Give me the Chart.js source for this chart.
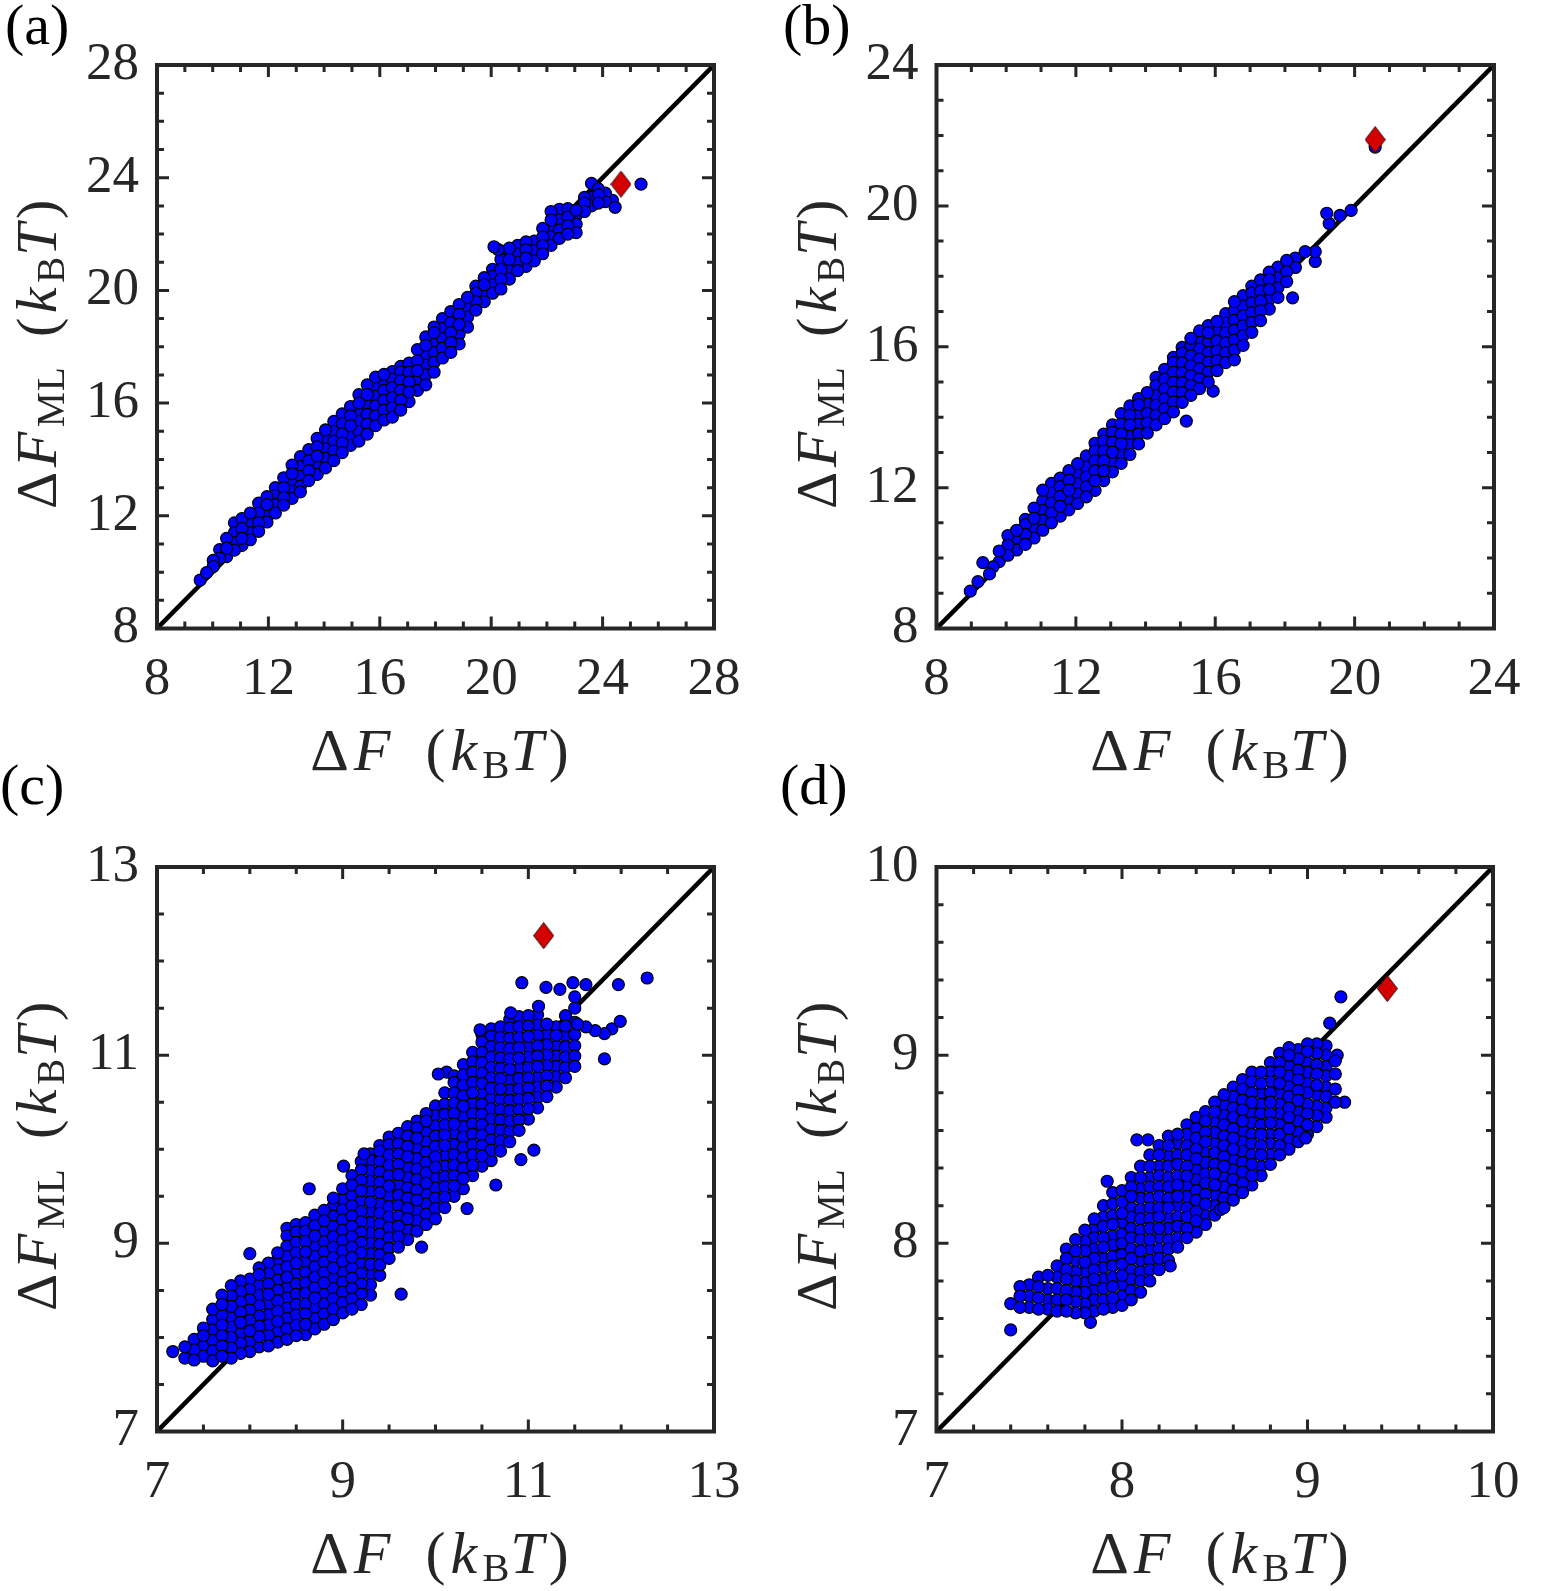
<!DOCTYPE html>
<html>
<head>
<meta charset="utf-8">
<script src="https://cdn.jsdelivr.net/npm/chart.js@4.4.1/dist/chart.umd.min.js"></script>
<style>
body { margin: 0; background: #fff; width: 1564px; height: 1591px; position: relative; overflow: hidden; font-family: "Liberation Serif", "Times New Roman", serif; }
canvas { position: absolute; }
.lab { position: absolute; font-size: 58px; line-height: 58px; color: #000; white-space: nowrap; }
.ttl { position: absolute; width: 600px; text-align: center; font-size: 60px; line-height: 60px; color: #262626; white-space: nowrap; letter-spacing: 5px; word-spacing: 10px; }
.ttl sub { font-size: 0.68em; line-height: 0; vertical-align: -0.2em; letter-spacing: 1px; }
.rot { transform: rotate(-90deg); font-size: 58px; letter-spacing: 4.5px; }
</style>
</head>
<body>
<canvas id="pa" width="782" height="795" style="left:0px;top:0px"></canvas>
<canvas id="pb" width="782" height="795" style="left:782px;top:0px"></canvas>
<canvas id="pc" width="782" height="796" style="left:0px;top:795px"></canvas>
<canvas id="pd" width="782" height="796" style="left:782px;top:795px"></canvas>

<div class="lab" style="left:5px;top:-4px">(a)</div>
<div class="lab" style="left:783px;top:-4px">(b)</div>
<div class="lab" style="left:0px;top:756px">(c)</div>
<div class="lab" style="left:780px;top:756px">(d)</div>

<div class="ttl" style="left:142px;top:720px">Δ<i>F</i> (<i>k</i><sub>B</sub><i>T</i>)</div>
<div class="ttl" style="left:922px;top:720px">Δ<i>F</i> (<i>k</i><sub>B</sub><i>T</i>)</div>
<div class="ttl" style="left:142px;top:1523px">Δ<i>F</i> (<i>k</i><sub>B</sub><i>T</i>)</div>
<div class="ttl" style="left:922px;top:1523px">Δ<i>F</i> (<i>k</i><sub>B</sub><i>T</i>)</div>

<div class="ttl rot" style="left:-263px;top:322px">Δ<i>F</i><sub>ML</sub> (<i>k</i><sub>B</sub><i>T</i>)</div>
<div class="ttl rot" style="left:517px;top:322px">Δ<i>F</i><sub>ML</sub> (<i>k</i><sub>B</sub><i>T</i>)</div>
<div class="ttl rot" style="left:-263px;top:1124px">Δ<i>F</i><sub>ML</sub> (<i>k</i><sub>B</sub><i>T</i>)</div>
<div class="ttl rot" style="left:517px;top:1124px">Δ<i>F</i><sub>ML</sub> (<i>k</i><sub>B</sub><i>T</i>)</div>

<script>
// ---- panel (a) ----
const aTicks = [8, 12, 16, 20, 24, 28];
const aMinor = 1;
const aX = [9.55, 9.78, 10.02, 10.25, 10.5, 10.78, 11.05, 11.35, 11.65, 11.95, 12.25, 12.55, 12.85, 13.15, 13.45, 13.75, 14.05, 14.35, 14.65, 14.95, 15.25, 15.55, 15.85, 16.15, 16.45, 16.75, 17.05, 17.35, 17.65, 17.95, 18.25, 18.55, 18.85, 19.15, 19.45, 19.75, 20.05, 20.35, 20.65, 20.95, 21.25, 21.55, 21.85, 22.15, 22.45, 22.75, 23.05, 23.35, 23.6, 23.85, 24.1, 24.35];
const aY = [
  [9.72], [9.98], [10.2, 10.42], [10.5, 10.8], [10.55, 10.85, 11.2],
  [10.78, 11.05, 11.4, 11.75], [10.95, 11.2, 11.55, 11.9], [11.15, 11.4, 11.75, 12.1], [11.45, 11.75, 12.1, 12.45], [11.78, 12.07, 12.4, 12.68],
  [12.1, 12.4, 12.72, 13.0], [12.38, 12.65, 13.0, 13.35], [12.62, 12.88, 13.2, 13.5, 13.8], [12.85, 13.05, 13.4, 13.75, 14.1], [13.25, 13.6, 13.95, 14.35],
  [13.47, 13.8, 14.12, 14.45, 14.75], [13.7, 14.05, 14.38, 14.72, 15.05], [13.96, 14.3, 14.65, 15.0, 15.35], [14.24, 14.58, 14.92, 15.28, 15.62], [14.5, 14.85, 15.2, 15.55, 15.88],
  [14.65, 15.0, 15.35, 15.68, 16.0, 16.3], [14.9, 15.25, 15.6, 15.95, 16.3, 16.65], [15.2, 15.55, 15.9, 16.25, 16.6, 16.92], [15.4, 15.75, 16.1, 16.45, 16.8, 17.02], [15.5, 15.85, 16.2, 16.55, 16.85, 17.12],
  [15.75, 16.1, 16.45, 16.8, 17.1, 17.3], [16.05, 16.4, 16.75, 17.1, 17.42], [16.45, 16.8, 17.15, 17.5, 17.9], [16.65, 17.0, 17.35, 17.7, 18.05, 18.35], [17.1, 17.45, 17.8, 18.15, 18.5, 18.7],
  [17.6, 17.95, 18.3, 18.65, 19.0], [17.8, 18.15, 18.5, 18.85, 19.25], [18.1, 18.45, 18.8, 19.15, 19.5], [18.7, 19.05, 19.4, 19.75], [19.3, 19.6, 19.9, 20.15],
  [19.6, 19.9, 20.2, 20.45], [19.9, 20.2, 20.5, 20.75], [20.05, 20.4, 20.75, 21.1, 21.4], [20.4, 20.75, 21.1, 21.5], [20.7, 21.0, 21.3, 21.6],
  [20.85, 21.15, 21.45, 21.72], [21.05, 21.4, 21.75], [21.3, 21.6, 21.9, 22.2], [21.6, 21.9, 22.2, 22.5, 22.8], [21.85, 22.15, 22.5, 22.88],
  [22.0, 22.3, 22.6, 22.9], [22.05, 22.35, 22.65, 22.85], [22.8, 23.1, 23.3], [23.0, 23.3, 23.8], [23.1, 23.4, 23.6],
  [23.15, 23.45], [23.2]
];
const aOutX = [20.1, 20.25, 24.45, 25.38];
const aOutY = [21.55, 21.45, 22.95, 23.77];
const aRed = [24.66, 23.77];

// ---- panel (b) ----
const bTicks = [8, 12, 16, 20, 24];
const bMinor = 1;
const bX = [9.8, 10.05, 10.3, 10.55, 10.8, 11.05, 11.3, 11.55, 11.8, 12.05, 12.3, 12.55, 12.8, 13.05, 13.3, 13.55, 13.8, 14.05, 14.3, 14.55, 14.8, 15.05, 15.3, 15.55, 15.8, 16.05, 16.3, 16.55, 16.8, 17.05, 17.3, 17.55, 17.8, 18.05, 18.3];
const bY = [
  [9.9, 10.2], [10.08, 10.37, 10.64], [10.23, 10.51, 10.79], [10.39, 10.67, 10.95, 11.1], [10.57, 10.85, 11.13, 11.42],
  [10.79, 11.07, 11.35, 11.63, 11.93], [11.0, 11.28, 11.56, 11.84, 12.12], [11.19, 11.47, 11.75, 12.03, 12.27], [11.37, 11.65, 11.93, 12.21, 12.48], [11.55, 11.83, 12.11, 12.39, 12.68],
  [11.74, 12.02, 12.3, 12.58, 12.9], [11.92, 12.2, 12.48, 12.76, 13.04, 13.26], [12.2, 12.48, 12.76, 13.04, 13.32, 13.52], [12.45, 12.73, 13.01, 13.29, 13.57, 13.78], [12.69, 12.97, 13.25, 13.53, 13.81, 14.1],
  [12.94, 13.22, 13.5, 13.78, 14.06, 14.32], [13.24, 13.52, 13.8, 14.08, 14.36, 14.53], [13.55, 13.83, 14.11, 14.39, 14.7], [13.78, 14.06, 14.34, 14.62, 14.9, 15.13], [13.96, 14.24, 14.52, 14.8, 15.08, 15.36],
  [14.15, 14.43, 14.71, 14.99, 15.27, 15.55, 15.7], [14.42, 14.7, 14.98, 15.26, 15.54, 15.82, 15.98], [14.62, 14.9, 15.18, 15.46, 15.74, 16.02, 16.24], [14.81, 15.09, 15.37, 15.65, 15.93, 16.21, 16.45], [15.0, 15.28, 15.56, 15.84, 16.12, 16.4, 16.6],
  [15.32, 15.6, 15.88, 16.16, 16.44, 16.72], [15.55, 15.83, 16.11, 16.39, 16.67, 16.94], [15.63, 15.91, 16.19, 16.47, 16.75, 17.03, 17.28], [16.04, 16.32, 16.6, 16.88, 17.16, 17.45], [16.41, 16.69, 16.97, 17.25, 17.53, 17.72],
  [16.74, 17.02, 17.3, 17.58, 17.9], [17.07, 17.35, 17.63, 17.91, 18.12], [17.4, 17.68, 17.96, 18.26], [17.85, 18.13, 18.45], [18.25, 18.52]
];
const bOutX = [8.97, 9.19, 9.33, 9.52, 9.62, 15.17, 15.94, 18.22, 18.58, 18.87, 18.87, 19.2, 19.27, 19.58, 19.9, 20.59];
const bOutY = [9.06, 9.33, 9.87, 9.55, 9.75, 13.89, 14.74, 17.39, 18.7, 18.7, 18.42, 19.79, 19.5, 19.73, 19.87, 21.67];
const bRed = [20.59, 21.88];

// ---- panel (c) ----
const cTicks = [7, 9, 11, 13];
const cMinor = 0.5;
const cX = [7.3, 7.4, 7.5, 7.6, 7.7, 7.8, 7.9, 8.0, 8.1, 8.2, 8.3, 8.4, 8.5, 8.6, 8.7, 8.8, 8.9, 9.0, 9.1, 9.2, 9.3, 9.4, 9.5, 9.6, 9.7, 9.8, 9.9, 10.0, 10.1, 10.2, 10.3, 10.4, 10.5, 10.6, 10.7, 10.8, 10.9, 11.0, 11.1, 11.2, 11.3, 11.4, 11.5];
const cY = [
  [7.78, 7.9],
  [7.76, 7.87, 7.98],
  [7.8, 7.91, 8.02, 8.1],
  [7.75, 7.86, 7.97, 8.08, 8.19, 8.3],
  [7.8, 7.91, 8.02, 8.13, 8.24, 8.35, 8.45],
  [7.78, 7.89, 8.0, 8.11, 8.22, 8.33, 8.44, 8.55],
  [7.83, 7.94, 8.05, 8.16, 8.27, 8.38, 8.49, 8.6],
  [7.85, 7.96, 8.07, 8.18, 8.29, 8.4, 8.51, 8.62],
  [7.9, 8.01, 8.12, 8.23, 8.34, 8.45, 8.56, 8.67, 8.74],
  [7.91, 8.02, 8.13, 8.24, 8.35, 8.46, 8.57, 8.68, 8.79],
  [7.95, 8.06, 8.17, 8.28, 8.39, 8.5, 8.61, 8.72, 8.83, 8.9],
  [7.98, 8.09, 8.2, 8.31, 8.42, 8.53, 8.64, 8.75, 8.86, 8.97, 9.08, 9.16],
  [8.02, 8.13, 8.24, 8.35, 8.46, 8.57, 8.68, 8.79, 8.9, 9.01, 9.12, 9.2],
  [8.03, 8.14, 8.25, 8.36, 8.47, 8.58, 8.69, 8.8, 8.91, 9.02, 9.13, 9.22],
  [8.09, 8.2, 8.31, 8.42, 8.53, 8.64, 8.75, 8.86, 8.97, 9.08, 9.19, 9.3],
  [8.14, 8.25, 8.36, 8.47, 8.58, 8.69, 8.8, 8.91, 9.02, 9.13, 9.24, 9.35],
  [8.19, 8.3, 8.41, 8.52, 8.63, 8.74, 8.85, 8.96, 9.07, 9.18, 9.29, 9.4, 9.48],
  [8.26, 8.37, 8.48, 8.59, 8.7, 8.81, 8.92, 9.03, 9.14, 9.25, 9.36, 9.47, 9.58],
  [8.3, 8.41, 8.52, 8.63, 8.74, 8.85, 8.96, 9.07, 9.18, 9.29, 9.4, 9.51, 9.62, 9.72],
  [8.35, 8.46, 8.57, 8.68, 8.79, 8.9, 9.01, 9.12, 9.23, 9.34, 9.45, 9.56, 9.67, 9.78, 9.87],
  [8.45, 8.56, 8.67, 8.78, 8.89, 9.0, 9.11, 9.22, 9.33, 9.44, 9.55, 9.66, 9.77, 9.88, 9.95],
  [8.66, 8.77, 8.88, 8.99, 9.1, 9.21, 9.32, 9.43, 9.54, 9.65, 9.76, 9.87, 9.98, 10.04],
  [8.84, 8.95, 9.06, 9.17, 9.28, 9.39, 9.5, 9.61, 9.72, 9.83, 9.94, 10.05, 10.13],
  [8.96, 9.07, 9.18, 9.29, 9.4, 9.51, 9.62, 9.73, 9.84, 9.95, 10.06, 10.17],
  [9.04, 9.15, 9.26, 9.37, 9.48, 9.59, 9.7, 9.81, 9.92, 10.03, 10.14, 10.24],
  [9.13, 9.24, 9.35, 9.46, 9.57, 9.68, 9.79, 9.9, 10.01, 10.12, 10.23, 10.3],
  [9.2, 9.31, 9.42, 9.53, 9.64, 9.75, 9.86, 9.97, 10.08, 10.19, 10.3, 10.38],
  [9.26, 9.37, 9.48, 9.59, 9.7, 9.81, 9.92, 10.03, 10.14, 10.25, 10.36, 10.46],
  [9.38, 9.49, 9.6, 9.71, 9.82, 9.93, 10.04, 10.15, 10.26, 10.37, 10.48, 10.6],
  [9.5, 9.61, 9.72, 9.83, 9.94, 10.05, 10.16, 10.27, 10.38, 10.49, 10.6, 10.71, 10.78],
  [9.58, 9.69, 9.8, 9.91, 10.02, 10.13, 10.24, 10.35, 10.46, 10.57, 10.68, 10.79, 10.9],
  [9.72, 9.83, 9.94, 10.05, 10.16, 10.27, 10.38, 10.49, 10.6, 10.71, 10.82, 10.93, 11.03],
  [9.82, 9.93, 10.04, 10.15, 10.26, 10.37, 10.48, 10.59, 10.7, 10.81, 10.92, 11.03, 11.14, 11.22],
  [9.88, 9.99, 10.1, 10.21, 10.32, 10.43, 10.54, 10.65, 10.76, 10.87, 10.98, 11.09, 11.2, 11.28],
  [9.98, 10.09, 10.2, 10.31, 10.42, 10.53, 10.64, 10.75, 10.86, 10.97, 11.08, 11.19, 11.3],
  [10.08, 10.19, 10.3, 10.41, 10.52, 10.63, 10.74, 10.85, 10.96, 11.07, 11.18, 11.29, 11.38],
  [10.2, 10.31, 10.42, 10.53, 10.64, 10.75, 10.86, 10.97, 11.08, 11.19, 11.3, 11.41],
  [10.32, 10.43, 10.54, 10.65, 10.76, 10.87, 10.98, 11.09, 11.2, 11.31, 11.42],
  [10.44, 10.55, 10.66, 10.77, 10.88, 10.99, 11.1, 11.21, 11.32, 11.43],
  [10.56, 10.67, 10.78, 10.89, 11.0, 11.11, 11.22, 11.33],
  [10.66, 10.77, 10.88, 10.99, 11.1, 11.21, 11.3],
  [10.76, 10.87, 10.98, 11.09, 11.2, 11.31, 11.42],
  [10.88, 10.99, 11.1, 11.22, 11.35, 11.5, 11.62]
];
const cOutX = [7.17, 8.0, 8.64, 9.01, 9.23, 9.63, 9.85, 10.34, 10.65, 10.92, 11.06, 11.82, 11.97, 12.28, 10.93, 11.19, 11.34, 11.48, 11.62, 11.53, 11.62, 11.72, 11.82, 11.9, 11.99, 10.81, 11.11, 10.48, 10.03, 10.12];
const cOutY = [7.85, 8.89, 9.58, 9.82, 9.95, 8.46, 8.96, 9.37, 9.62, 9.89, 9.99, 10.96, 11.75, 11.82, 11.77, 11.72, 11.7, 11.77, 11.75, 11.33, 11.3, 11.26, 11.23, 11.28, 11.36, 11.45, 11.52, 11.27, 10.8, 10.82];
const cRed = [11.165, 12.27];

// ---- panel (d) ----
const dTicks = [7, 8, 9, 10];
const dMinor = 0.2;
const dX = [7.4, 7.45, 7.5, 7.55, 7.6, 7.65, 7.7, 7.75, 7.8, 7.85, 7.9, 7.95, 8.0, 8.05, 8.1, 8.15, 8.2, 8.25, 8.3, 8.35, 8.4, 8.45, 8.5, 8.55, 8.6, 8.65, 8.7, 8.75, 8.8, 8.85, 8.9, 8.95, 9.0, 9.05, 9.1, 9.15];
const dY = [
  [7.68],
  [7.66, 7.72, 7.77],
  [7.66, 7.72, 7.78],
  [7.65, 7.71, 7.77, 7.82],
  [7.65, 7.7, 7.76, 7.83],
  [7.64, 7.7, 7.76, 7.82, 7.88],
  [7.64, 7.7, 7.75, 7.81, 7.86, 7.92, 7.97],
  [7.63, 7.69, 7.74, 7.8, 7.85, 7.91, 7.96, 8.02],
  [7.63, 7.68, 7.74, 7.79, 7.85, 7.9, 7.96, 8.01, 8.07],
  [7.64, 7.7, 7.75, 7.81, 7.86, 7.92, 7.97, 8.03, 8.08, 8.13],
  [7.65, 7.7, 7.76, 7.81, 7.87, 7.92, 7.98, 8.03, 8.09, 8.14, 8.2],
  [7.66, 7.71, 7.77, 7.82, 7.88, 7.93, 7.99, 8.04, 8.1, 8.15, 8.21, 8.27],
  [7.67, 7.72, 7.78, 7.83, 7.89, 7.94, 8.0, 8.05, 8.11, 8.16, 8.22, 8.28],
  [7.7, 7.75, 7.81, 7.86, 7.92, 7.97, 8.03, 8.08, 8.14, 8.19, 8.25, 8.3, 8.35],
  [7.74, 7.8, 7.85, 7.91, 7.96, 8.02, 8.07, 8.13, 8.18, 8.24, 8.29, 8.35, 8.41],
  [7.8, 7.86, 7.91, 7.97, 8.02, 8.08, 8.13, 8.19, 8.24, 8.3, 8.35, 8.41, 8.47],
  [7.86, 7.92, 7.97, 8.03, 8.08, 8.14, 8.19, 8.25, 8.3, 8.36, 8.41, 8.47, 8.52],
  [7.91, 7.97, 8.02, 8.08, 8.13, 8.19, 8.24, 8.3, 8.35, 8.41, 8.46, 8.52, 8.57],
  [7.98, 8.03, 8.09, 8.14, 8.2, 8.25, 8.31, 8.36, 8.42, 8.47, 8.53, 8.58],
  [8.03, 8.08, 8.14, 8.19, 8.25, 8.3, 8.36, 8.41, 8.47, 8.52, 8.58, 8.63],
  [8.06, 8.12, 8.17, 8.23, 8.28, 8.34, 8.39, 8.45, 8.5, 8.56, 8.61, 8.67],
  [8.1, 8.15, 8.21, 8.26, 8.32, 8.37, 8.43, 8.48, 8.54, 8.59, 8.65, 8.7],
  [8.15, 8.2, 8.26, 8.31, 8.37, 8.42, 8.48, 8.53, 8.59, 8.64, 8.7, 8.75],
  [8.19, 8.24, 8.3, 8.35, 8.41, 8.46, 8.52, 8.57, 8.63, 8.68, 8.74, 8.79],
  [8.23, 8.28, 8.34, 8.39, 8.45, 8.5, 8.56, 8.61, 8.67, 8.72, 8.78, 8.83],
  [8.27, 8.32, 8.38, 8.43, 8.49, 8.54, 8.6, 8.65, 8.71, 8.76, 8.82, 8.87],
  [8.31, 8.36, 8.42, 8.47, 8.53, 8.58, 8.64, 8.69, 8.75, 8.8, 8.86, 8.91],
  [8.36, 8.41, 8.47, 8.52, 8.58, 8.63, 8.69, 8.74, 8.8, 8.85, 8.91],
  [8.42, 8.47, 8.53, 8.58, 8.64, 8.69, 8.75, 8.8, 8.86, 8.91, 8.96],
  [8.47, 8.52, 8.58, 8.63, 8.69, 8.74, 8.8, 8.85, 8.91, 8.96, 9.01],
  [8.5, 8.56, 8.61, 8.67, 8.72, 8.78, 8.83, 8.89, 8.94, 9.0, 9.04],
  [8.54, 8.59, 8.65, 8.7, 8.76, 8.81, 8.87, 8.92, 8.98, 9.03],
  [8.58, 8.63, 8.69, 8.74, 8.8, 8.85, 8.91, 8.96, 9.02, 9.06],
  [8.62, 8.68, 8.73, 8.79, 8.84, 8.9, 8.95, 9.01, 9.06],
  [8.67, 8.72, 8.78, 8.83, 8.89, 8.94, 9.0, 9.05],
  [8.75, 8.82, 8.9, 8.97]
];
const dOutX = [7.4, 7.83, 7.92, 8.08, 8.14, 8.26, 8.53, 9.12, 9.16, 9.18, 9.2, 8.99];
const dOutY = [7.54, 7.58, 8.33, 8.55, 8.55, 7.88, 8.18, 9.17, 9.0, 9.31, 8.75, 8.56];
const dRed = [9.43, 9.354];

//red diamond marker, taller than wide like the matlab one
function diamond(w, h) {
    let c = document.createElement('canvas');
    c.width = w;
    c.height = h;
    let g = c.getContext('2d');
    g.beginPath();
    g.moveTo(w / 2, 0.5);
    g.lineTo(w - 0.5, h / 2);
    g.lineTo(w / 2, h - 0.5);
    g.lineTo(0.5, h / 2);
    g.closePath();
    g.fillStyle = '#d50000';
    g.fill();
    g.lineWidth = 1;
    g.strokeStyle = '#2a0000';
    g.stroke();
    return c;
}
const redMark = diamond(21, 27);

//box around the axes with inward ticks on all four sides
const framePlugin = {
    id: 'frame',
    afterDatasetsDraw(chart, args, opts) {
        let ctx = chart.ctx;
        let a = chart.chartArea;
        ctx.save();
        ctx.strokeStyle = '#262626';
        ctx.lineWidth = 3;
        ctx.beginPath();
        [chart.scales.x, chart.scales.y].forEach(s => {
            let n = Math.round((s.max - s.min) / opts.minor);
            for (let i = 1; i < n; i++) {
                let v = s.min + i * opts.minor;
                let r = (v - s.min) / opts.major;
                let len = Math.abs(r - Math.round(r)) < 1e-6 ? 12 : 7;
                let p = s.getPixelForValue(v);
                if (s.isHorizontal()) {
                    ctx.moveTo(p, a.bottom); ctx.lineTo(p, a.bottom - len);
                    ctx.moveTo(p, a.top); ctx.lineTo(p, a.top + len);
                } else {
                    ctx.moveTo(a.left, p); ctx.lineTo(a.left + len, p);
                    ctx.moveTo(a.right, p); ctx.lineTo(a.right - len, p);
                }
            }
        });
        ctx.stroke();
        ctx.lineWidth = 4;
        ctx.strokeRect(a.left, a.top, a.right - a.left, a.bottom - a.top);
        ctx.restore();
    }
};

const serif = "'Liberation Serif', 'Times New Roman', serif";

function axis(ticks, pad, size) {
    return {
        type: 'linear',
        min: ticks[0],
        max: ticks[ticks.length - 1],
        ticks: {
            stepSize: ticks[1] - ticks[0],
            padding: pad,
            color: '#262626',
            font: { family: serif, size: 53 },
            maxRotation: 0,
            autoSkip: false
        },
        grid: { display: false, drawTicks: false },
        border: { display: false },
        afterFit: s => {
            if (s.isHorizontal()) s.height = size;
            else s.width = size;
        }
    };
}

function makePanel(id, p) {
    let cloud = [];
    p.xs.forEach((x, i) => (p.ys[i] || []).forEach(y => cloud.push({ x: x, y: y })));
    p.outX.forEach((x, i) => cloud.push({ x: x, y: p.outY[i] }));
    //mix the drawing order so overlaps look like the scattered original
    let pts = cloud.map((pt, i) => ({ pt: pt, k: (i * 7919) % 1009 })).sort((u, v) => u.k - v.k).map(o => o.pt);
    let lo = p.ticks[0], hi = p.ticks[p.ticks.length - 1];
    new Chart(document.getElementById(id), {
        type: 'scatter',
        data: {
            datasets: [
                { data: [{ x: p.red[0], y: p.red[1] }], pointStyle: redMark, pointRadius: 13, order: 0 },
                { data: pts, pointRadius: 6, borderWidth: 1.2, backgroundColor: '#0000ff', borderColor: '#000000', order: 1 },
                { data: [{ x: lo, y: lo }, { x: hi, y: hi }], showLine: true, borderColor: '#000000', borderWidth: 4.5, pointRadius: 0, order: 2 }
            ]
        },
        options: {
            responsive: false,
            animation: false,
            events: [],
            layout: { padding: { left: 0, top: p.top, right: p.right, bottom: 0 } },
            scales: {
                x: axis(p.ticks, 20, p.xh),
                y: axis(p.ticks, 18, p.yw)
            },
            plugins: {
                legend: { display: false },
                tooltip: { enabled: false },
                frame: { minor: p.minor, major: p.ticks[1] - p.ticks[0] }
            }
        },
        plugins: [framePlugin]
    });
}

makePanel('pa', { xs: aX, ys: aY, outX: aOutX, outY: aOutY, red: aRed, ticks: aTicks, minor: aMinor, top: 65, right: 68, yw: 157, xh: 166.5 });
makePanel('pb', { xs: bX, ys: bY, outX: bOutX, outY: bOutY, red: bRed, ticks: bTicks, minor: bMinor, top: 65, right: 70, yw: 154.5, xh: 166.5 });
makePanel('pc', { xs: cX, ys: cY, outX: cOutX, outY: cOutY, red: cRed, ticks: cTicks, minor: cMinor, top: 72, right: 68, yw: 157, xh: 159.5 });
makePanel('pd', { xs: dX, ys: dY, outX: dOutX, outY: dOutY, red: dRed, ticks: dTicks, minor: dMinor, top: 72, right: 71, yw: 154.5, xh: 159.5 });
</script>
</body>
</html>
